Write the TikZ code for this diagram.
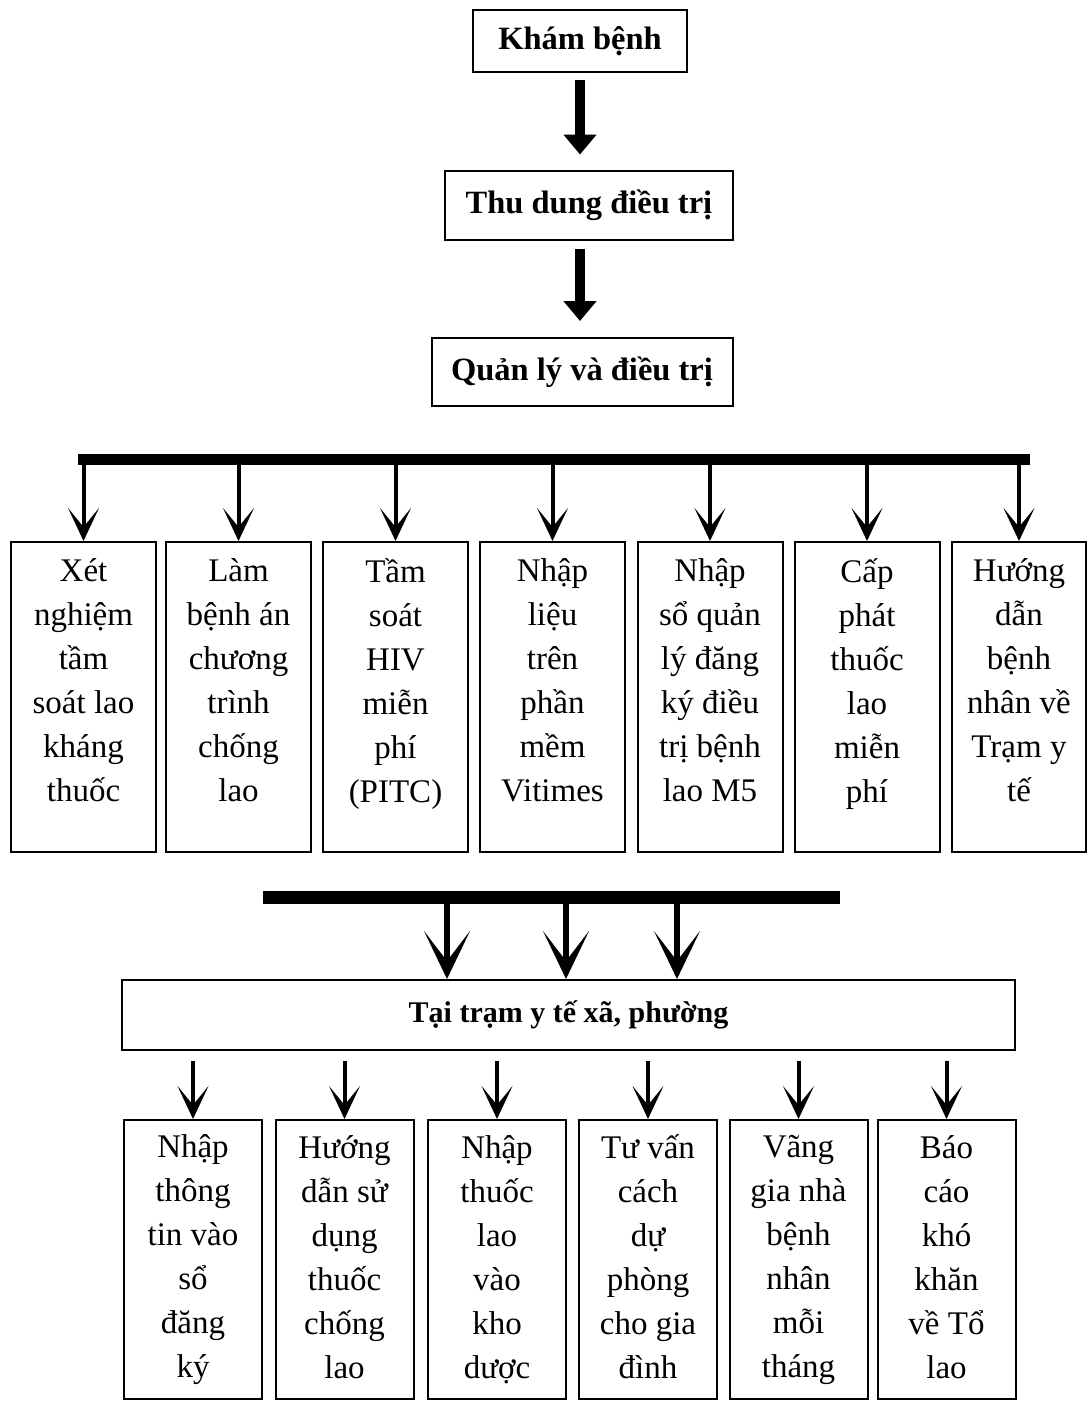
\documentclass[tikz,border=0pt]{standalone}
\usepackage{fontspec}
\setmainfont{Liberation Serif}
\usetikzlibrary{arrows.meta, calc}
\tikzset{
  stagebox/.style={draw, line width=2pt, inner sep=0pt, align=center, font=\bfseries\fontsize{32.5}{38}\selectfont},
  textcol/.style={draw, line width=2pt, inner sep=0pt, align=center, font=\fontsize{33}{44}\selectfont},
  taskbox/.style={textcol, minimum width=145pt, minimum height=310pt,
    execute at begin node=\strut, execute at end node={\rule[-33pt]{0pt}{1pt}}},
  localbox/.style={textcol, minimum width=138pt, minimum height=279pt,
    execute at begin node={\rule{0pt}{46pt}}, execute at end node={\rule[-5pt]{0pt}{1pt}}},
  bus/.style={line width=11pt},
  bigarrow/.style={line width=10pt, -{Triangle[length=20pt, width=32pt]}},
  myarrow/.style={line width=4pt, -{Stealth[length=33pt, width=31pt, inset=19pt]}},
  widearrow/.style={line width=6pt, -{Stealth[length=48pt, width=46pt, inset=30pt]}}
}

\begin{document}
\begin{tikzpicture}[x=1pt, y=-1pt]
  \useasboundingbox (0,0) rectangle (1088,1401);

  % Main steps
  \node[stagebox, minimum width=214pt, minimum height=62pt] (kham) at (580,41) {Khám bệnh};
  \node[stagebox, minimum width=288pt, minimum height=69pt] (thu) at (589,205) {Thu dung điều trị};
  \node[stagebox, minimum width=301pt, minimum height=68pt] (quanly) at (582,372) {Quản lý và điều trị};

  \draw[bigarrow, shorten <=7pt, shorten >=15pt] (kham.south) -- (kham.south |- thu.north);
  \draw[bigarrow, shorten <=8pt, shorten >=16pt] (kham.south |- thu.south) -- (kham.south |- quanly.north);

  % Tasks at the hospital
  \coordinate (busL) at (78,459);
  \coordinate (busR) at (1030,459);
  \draw[bus] (busL) -- (busR);

  \node[taskbox] (b1) at (83.5,697) {Xét\\nghiệm\\tầm\\soát lao\\kháng\\thuốc};
  \node[taskbox] (b2) at (238.5,697) {Làm\\bệnh án\\chương\\trình\\chống\\lao};
  \node[taskbox] (b3) at (395.5,697) {Tầm\\soát\\HIV\\miễn\\phí\\(PITC)};
  \node[taskbox] (b4) at (552.5,697) {Nhập\\liệu\\trên\\phần\\mềm\\Vitimes};
  \node[taskbox] (b5) at (710,697) {Nhập\\sổ quản\\lý đăng\\ký điều\\trị bệnh\\lao M5};
  \node[taskbox] (b6) at (867,697) {Cấp\\phát\\thuốc\\lao\\miễn\\phí};
  \node[taskbox, minimum width=134pt] (b7) at (1019,697) {Hướng\\dẫn\\bệnh\\nhân về\\Trạm y\\tế};

  \draw[myarrow] (b1.north |- busL) -- (b1.north);
  \draw[myarrow] (b2.north |- busL) -- (b2.north);
  \draw[myarrow] (b3.north |- busL) -- (b3.north);
  \draw[myarrow] (b4.north |- busL) -- (b4.north);
  \draw[myarrow] (b5.north |- busL) -- (b5.north);
  \draw[myarrow] (b6.north |- busL) -- (b6.north);
  \draw[myarrow] (b7.north |- busL) -- (b7.north);

  % Commune health station
  \coordinate (midL) at (263,897);
  \coordinate (midR) at (840,897);
  \draw[bus, line width=13pt] (midL) -- (midR);

  \node[stagebox, minimum width=893pt, minimum height=70pt, font=\bfseries\fontsize{30}{34}\selectfont] (tram) at (568.5,1015) {Tại trạm y tế xã, phường};

  \coordinate (m1) at (447,897);
  \coordinate (m2) at (566,897);
  \coordinate (m3) at (677,897);
  \draw[widearrow] (m1) -- (m1 |- tram.north);
  \draw[widearrow] (m2) -- (m2 |- tram.north);
  \draw[widearrow] (m3) -- (m3 |- tram.north);

  \node[localbox] (l1) at (193,1259.5) {Nhập\\thông\\tin vào\\sổ\\đăng\\ký};
  \node[localbox] (l2) at (344.5,1259.5) {Hướng\\dẫn sử\\dụng\\thuốc\\chống\\lao};
  \node[localbox] (l3) at (497,1259.5) {Nhập\\thuốc\\lao\\vào\\kho\\dược};
  \node[localbox] (l4) at (648,1259.5) {Tư vấn\\cách\\dự\\phòng\\cho gia\\đình};
  \node[localbox] (l5) at (798.5,1259.5) {Vãng\\gia nhà\\bệnh\\nhân\\mỗi\\tháng};
  \node[localbox] (l6) at (946.5,1259.5) {Báo\\cáo\\khó\\khăn\\về Tổ\\lao};

  \draw[myarrow, shorten <=10pt] (tram.south -| l1.north) -- (l1.north);
  \draw[myarrow, shorten <=10pt] (tram.south -| l2.north) -- (l2.north);
  \draw[myarrow, shorten <=10pt] (tram.south -| l3.north) -- (l3.north);
  \draw[myarrow, shorten <=10pt] (tram.south -| l4.north) -- (l4.north);
  \draw[myarrow, shorten <=10pt] (tram.south -| l5.north) -- (l5.north);
  \draw[myarrow, shorten <=10pt] (tram.south -| l6.north) -- (l6.north);
\end{tikzpicture}
\end{document}
